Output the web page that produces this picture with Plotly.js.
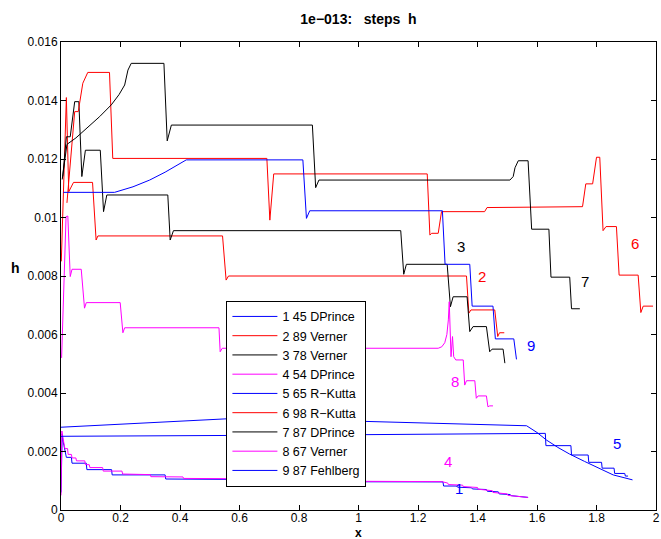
<!DOCTYPE html>
<html>
<head>
<meta charset="utf-8">
<script src="https://cdn.plot.ly/plotly-3.0.1.min.js"></script>
<style>html,body{margin:0;padding:0;background:#fff;}</style>
</head>
<body>
<div id="chart" style="width:661px;height:539px;"></div>
<script>
// ---- data ----
const names = ["1 45 DPrince","2 89 Verner","3 78 Verner","4 54 DPrince","5 65 R\u2212Kutta","6 98 R\u2212Kutta","7 87 DPrince","8 67 Verner","9 87 Fehlberg"];
const colors = ["#0000ff","#ff0000","#000000","#ff00ff","#0000ff","#ff0000","#000000","#ff00ff","#0000ff"];

const c1x = [0.0,0.004,0.006,0.01,0.015,0.018,0.035,0.037,0.085,0.087,0.17,0.172,0.35,0.352,0.68,0.683,1.284,1.286,1.33,1.333,1.38,1.383,1.43,1.433,1.47,1.473,1.51,1.513,1.57];
const c1y = [0.0006,0.0026,0.0024,0.0022,0.0020,0.0018,0.0018,0.0016,0.0016,0.00138,0.00138,0.0012,0.0012,0.00106,0.00104,0.00097,0.00096,0.00082,0.00082,0.00078,0.00076,0.00072,0.0007,0.00064,0.00062,0.00055,0.00053,0.00049,0.00043];

const c2x = [0.001,0.018,0.026,0.042,0.106,0.118,0.124,0.543,0.555,0.563,1.363,1.371,1.378,1.458,1.468,1.474,1.49];
const c2y = [0.0085,0.0141,0.01088,0.0112,0.0112,0.00923,0.00937,0.00937,0.00786,0.0080,0.0080,0.00673,0.00684,0.00684,0.00593,0.00606,0.00606];

const c3x = [0.006,0.018,0.031,0.046,0.060,0.070,0.082,0.132,0.143,0.154,0.359,0.367,0.378,1.142,1.152,1.161,1.298,1.309,1.318,1.365,1.374,1.385,1.430,1.441,1.449,1.486,1.492];
const c3y = [0.0114,0.01276,0.01276,0.01396,0.01396,0.0114,0.0123,0.0123,0.0102,0.01077,0.01077,0.00923,0.00955,0.00955,0.00806,0.0084,0.0084,0.00695,0.00729,0.00729,0.0061,0.00627,0.00627,0.00541,0.0055,0.0055,0.00502];

const c4x = [0.0,0.003,0.006,0.01,0.013,0.022,0.024,0.035,0.037,0.05,0.052,0.08,0.082,0.095,0.097,0.14,0.142,0.205,0.207,0.3,0.302,0.41,0.412,0.57,0.572,0.78,0.782,1.28,1.29,1.3,1.302,1.35,1.352,1.40,1.402,1.45,1.452,1.5,1.502,1.57];
const c4y = [0.0005,0.0027,0.0025,0.0023,0.0021,0.0021,0.0019,0.0019,0.00178,0.00178,0.00168,0.00168,0.00155,0.00155,0.00145,0.00145,0.00133,0.00133,0.00123,0.00121,0.00114,0.00113,0.00108,0.00107,0.00103,0.00102,0.00099,0.00097,0.00094,0.00092,0.00087,0.00085,0.0008,0.00077,0.00071,0.00066,0.0006,0.00055,0.0005,0.00043];

const c5x = [0.0,0.003,0.8,1.6,1.628,1.63,1.714,1.716,1.772,1.774,1.817,1.819,1.859,1.861,1.895,1.897,1.906];
const c5y = [0.0025,0.00252,0.00256,0.00262,0.00262,0.0022,0.0022,0.00188,0.00188,0.00163,0.00163,0.00143,0.00143,0.00125,0.00125,0.00116,0.00116];
const c5bx = [0.0,0.2,0.4,0.6,0.8,1.071,1.3,1.565,1.6,1.632,1.67,1.71,1.76,1.8,1.856,1.921];
const c5by = [0.00283,0.00293,0.00303,0.00314,0.00309,0.00301,0.00295,0.00288,0.00265,0.00239,0.00214,0.00191,0.00166,0.00146,0.0012,0.00103];

const c6x = [0.02,0.046,0.058,0.0733,0.09,0.163,0.174,0.692,0.702,0.715,1.231,1.240,1.246,1.268,1.279,1.424,1.432,1.753,1.764,1.787,1.800,1.811,1.822,1.832,1.867,1.876,1.940,1.949,1.957,1.99];
const c6y = [0.0105,0.01362,0.01362,0.01459,0.01496,0.01496,0.01202,0.01202,0.00991,0.01149,0.01149,0.0094,0.00946,0.00946,0.0102,0.0102,0.01034,0.01037,0.01115,0.01115,0.01206,0.01206,0.00955,0.00969,0.00969,0.00803,0.00803,0.00675,0.00697,0.00697];

const c7x = [0.004,0.02,0.05,0.09,0.13,0.169,0.195,0.214,0.225,0.236,0.346,0.357,0.371,0.845,0.856,0.867,1.509,1.52,1.526,1.537,1.570,1.582,1.640,1.647,1.710,1.716,1.744];
const c7y = [0.0113,0.0125,0.01272,0.01308,0.01345,0.01385,0.0142,0.01453,0.01504,0.01527,0.01527,0.01262,0.01316,0.01316,0.01102,0.01128,0.01128,0.0114,0.0117,0.01194,0.01194,0.0096,0.0096,0.00796,0.00796,0.00688,0.00688];

const c8x = [0.002,0.017,0.023,0.031,0.037,0.068,0.079,0.085,0.199,0.208,0.214,0.531,0.535,0.542,1.268,1.28,1.29,1.297,1.302,1.305,1.311,1.316,1.320,1.327,1.352,1.357,1.363,1.391,1.396,1.402,1.430,1.435,1.441,1.452];
const c8y = [0.0052,0.01003,0.01005,0.00798,0.00823,0.00823,0.0069,0.00709,0.00709,0.00606,0.00623,0.00623,0.00541,0.00553,0.00553,0.00558,0.00572,0.0060,0.0065,0.00712,0.00524,0.00593,0.00524,0.00513,0.00513,0.00427,0.00442,0.00442,0.00382,0.0039,0.0039,0.00353,0.00356,0.00356];

const c9x = [0.008,0.18,0.242,0.298,0.35,0.39,0.421,0.813,0.825,0.836,1.282,1.291,1.374,1.382,1.452,1.460,1.522,1.531];
const c9y = [0.01086,0.01086,0.01105,0.01128,0.01155,0.01178,0.01197,0.01197,0.00997,0.01023,0.01023,0.0084,0.0084,0.00697,0.00697,0.00585,0.00585,0.00515];

const labelText = ["1","2","3","4","5","6","7","8","9"];
const labelX = [1.337,1.415,1.343,1.301,1.869,1.929,1.761,1.324,1.581];
const labelY = [0.00074,0.00797,0.00900,0.00165,0.00228,0.00912,0.00780,0.00439,0.00564];

const xTicks = [0,0.2,0.4,0.6,0.8,1,1.2,1.4,1.6,1.8,2];
const xTickText = ["0","0.2","0.4","0.6","0.8","1","1.2","1.4","1.6","1.8","2"];
const yTicks = [0,0.002,0.004,0.006,0.008,0.01,0.012,0.014,0.016];
const yTickText = ["0","0.002","0.004","0.006","0.008","0.01","0.012","0.014","0.016"];

// ---- build ----
const FONT = "Liberation Sans, Arial, Helvetica, sans-serif";
const xs = [c1x,c2x,c3x,c4x,c5x,c6x,c7x,c8x,c9x];
const ys = [c1y,c2y,c3y,c4y,c5y,c6y,c7y,c8y,c9y];
const traces = xs.map((x,i)=>({
  x:x, y:ys[i], type:"scatter", mode:"lines", name:names[i],
  line:{color:colors[i], width:1}, hoverinfo:"x+y+name"
}));
traces.push({x:c5bx, y:c5by, type:"scatter", mode:"lines", name:names[4],
  line:{color:colors[4], width:1}, showlegend:false});

const annotations = labelText.map((t,i)=>({
  x:labelX[i], y:labelY[i], xref:"x", yref:"y", text:t, showarrow:false,
  font:{family:FONT, size:15, color:colors[i]}
}));
annotations.push({x:0.5, y:0, xref:"paper", yref:"paper", yanchor:"top", yshift:-15, borderpad:0,
  text:"<b>x</b>", showarrow:false, font:{family:FONT, size:12, color:"#000"}});
annotations.push({x:-0.088, y:0.517, xref:"paper", yref:"paper",
  text:"<b>h</b>", showarrow:false, font:{family:FONT, size:14, color:"#000"}});

const axisCommon = {showgrid:false, zeroline:false, showline:true, linecolor:"#000", linewidth:1,
  mirror:"allticks", ticks:"inside", ticklen:5, tickcolor:"#000", tickwidth:1,
  tickfont:{family:FONT, size:12, color:"#000"}};

const layout = {
  width:661, height:539,
  margin:{l:61, r:5, t:42, b:29},
  paper_bgcolor:"#fff", plot_bgcolor:"#fff",
  title:{text:"<b>1e\u2212013:   steps  h</b>", font:{family:FONT, size:14, color:"#000"},
         x:0.5, xref:"paper", xanchor:"center", y:1, yref:"container", yanchor:"top", pad:{t:14}},
  xaxis:Object.assign({range:[0,2], tickvals:xTicks, ticktext:xTickText, ticklabelstandoff:-3}, axisCommon),
  yaxis:Object.assign({range:[0,0.016], tickvals:yTicks, ticktext:yTickText}, axisCommon),
  showlegend:true,
  legend:{x:0.278, y:0.447, xanchor:"left", yanchor:"top", bgcolor:"#fff", itemwidth:45,
    bordercolor:"#000", borderwidth:1, font:{family:FONT, size:12.5, color:"#000"}, tracegroupgap:0},
  annotations:annotations
};
Plotly.newPlot("chart", traces, layout, {displayModeBar:false, staticPlot:true});
</script>
</body>
</html>
